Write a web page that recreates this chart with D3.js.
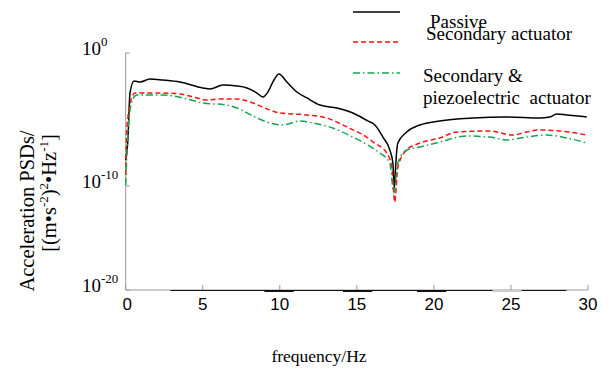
<!DOCTYPE html>
<html>
<head>
<meta charset="utf-8">
<script src="https://cdn.jsdelivr.net/npm/d3@7"></script>
<style>
  body { margin: 0; background: #fff; }
  svg { display: block; }
</style>
</head>
<body>
<div id="chart"></div>
<script>
// frequencies (Hz) and log10 of PSD
const passiveHz = [0, 0.13, 0.28, 0.54, 0.93, 1.58, 2.42, 3.52, 5.01, 5.47, 6.31, 7.22, 7.87, 8.52, 8.9, 9.23, 9.62, 9.94, 10.46, 11.11, 11.76, 12.6, 13.71, 14.74, 15.71, 16.17, 16.69, 17.14, 17.34, 17.43, 17.47, 17.53, 17.66, 18.24, 19.09, 20.38, 22.52, 24.73, 26.87, 27.52, 27.97, 28.62, 29.92];
const passiveLog = [-8.05, -6.77, -3.0, -2.1, -2.18, -1.95, -2.03, -2.18, -2.63, -2.71, -2.41, -2.48, -2.63, -3.01, -3.31, -2.93, -2.03, -1.58, -2.18, -2.93, -3.38, -3.91, -4.14, -4.51, -5.11, -5.41, -6.32, -7.29, -8.27, -10.2, -9.6, -8.3, -6.77, -5.94, -5.41, -5.11, -4.89, -4.81, -4.89, -4.81, -4.59, -4.66, -4.81];

const secondaryHz = [0, 0.08, 0.41, 0.6, 1.38, 2.42, 3.52, 4.62, 5.27, 6.12, 7.22, 8.26, 9.36, 10.0, 10.85, 11.76, 13.05, 14.35, 15.71, 16.04, 16.94, 17.27, 17.46, 17.66, 18.24, 19.09, 20.38, 21.48, 23.62, 25.11, 26.02, 26.87, 28.16, 29.92];
const secondaryLog = [-9.17, -5.56, -3.31, -3.01, -3.01, -3.01, -3.08, -3.38, -3.53, -3.46, -3.46, -3.76, -4.29, -4.51, -4.59, -4.66, -4.89, -5.56, -6.39, -6.69, -7.52, -8.57, -11.54, -8.57, -7.29, -6.77, -6.39, -5.94, -5.86, -6.17, -5.94, -5.79, -5.86, -6.17];

const piezoHz = [0, 0.12, 0.28, 0.54, 0.73, 2.42, 3.98, 5.01, 6.57, 7.22, 8.26, 9.16, 10.2, 11.31, 12.15, 13.44, 14.74, 15.71, 16.49, 17.14, 17.4, 17.66, 18.24, 19.09, 20.38, 22.13, 23.62, 24.73, 26.02, 27.32, 28.62, 29.92];
const piezoLog = [-9.92, -6.54, -4.29, -3.31, -3.16, -3.16, -3.46, -3.76, -3.91, -4.14, -4.74, -5.19, -5.41, -5.11, -5.26, -5.64, -6.32, -6.92, -7.52, -8.27, -10.67, -8.27, -7.29, -7.07, -6.69, -6.24, -6.32, -6.54, -6.32, -6.17, -6.39, -6.77];

const xTicks = [0, 5, 10, 15, 20, 25, 30];
const yTickExps = [0, -10, -20];
const legendLabels = ["Passive", "Secondary actuator", ["Secondary &", "piezoelectric  actuator"]];

const width = 613, height = 371;
const plotLeft = 125.7, plotRight = 588, plotTop = 53, plotBottom = 290;

const svg = d3.select("#chart").append("svg")
  .attr("width", width).attr("height", height);

const x = d3.scaleLinear().domain([0, 30]).range([plotLeft, plotRight]);
// the printed axis is not evenly spaced per decade, so use a piecewise log scale
const y = d3.scaleLog().domain([1e0, 1e-10, 1e-20]).range([plotTop, 186, plotBottom]);

const line = d3.line()
  .x(d => x(d[0]))
  .y(d => y(Math.pow(10, d[1])))
  .curve(d3.curveMonotoneX);

const series = [
  { hz: passiveHz, v: passiveLog, color: "#000", dash: null },
  { hz: secondaryHz, v: secondaryLog, color: "#ff1010", dash: "5,3" },
  { hz: piezoHz, v: piezoLog, color: "#13a64f", dash: "7,3,1.5,3" }
];

// axes (left + bottom only, grey, ticks inward)
const axisColor = "#999";
svg.append("line").attr("x1", plotLeft).attr("x2", plotLeft).attr("y1", plotTop).attr("y2", plotBottom)
  .attr("stroke", axisColor).attr("stroke-width", 1);
svg.append("line").attr("x1", plotLeft).attr("x2", plotRight).attr("y1", plotBottom).attr("y2", plotBottom)
  .attr("stroke", axisColor).attr("stroke-width", 1);

svg.selectAll(".xt").data(xTicks).enter().append("line")
  .attr("x1", d => x(d)).attr("x2", d => x(d))
  .attr("y1", plotBottom).attr("y2", plotBottom - 5)
  .attr("stroke", axisColor);

svg.selectAll(".yt").data(yTickExps).enter().append("line")
  .attr("x1", plotLeft).attr("x2", plotLeft + 4)
  .attr("y1", d => y(Math.pow(10, d))).attr("y2", d => y(Math.pow(10, d)))
  .attr("stroke", axisColor);

// dark bits along the baseline as in the scan
svg.append("line").attr("x1", x(2.9)).attr("x2", x(28.6)).attr("y1", plotBottom + 0.5).attr("y2", plotBottom + 0.5)
  .attr("stroke", "#111").attr("stroke-width", 1.2);
[[9, 10.9], [14.1, 16], [18.9, 20.8]].forEach(s => {
  svg.append("line").attr("x1", x(s[0])).attr("x2", x(s[1])).attr("y1", plotBottom + 1).attr("y2", plotBottom + 1)
    .attr("stroke", "#111").attr("stroke-width", 2);
});
svg.append("line").attr("x1", x(23.8)).attr("x2", x(25.7)).attr("y1", plotBottom + 1).attr("y2", plotBottom + 1)
  .attr("stroke", "#ccc").attr("stroke-width", 2);

// x tick labels
svg.selectAll(".xl").data(xTicks).enter().append("text")
  .attr("x", d => x(d) + (d === 0 ? 1.5 : 0)).attr("y", 310)
  .attr("text-anchor", "middle")
  .attr("font-family", "Liberation Sans, Arial, sans-serif")
  .attr("font-size", 17)
  .text(d => d);

// y tick labels 10^n
const yl = svg.selectAll(".yl").data(yTickExps).enter().append("text")
  .attr("x", 82).attr("y", d => y(Math.pow(10, d)) + 2)
  .attr("font-family", "Liberation Serif, Times New Roman, serif")
  .attr("font-size", 19);
yl.append("tspan").text("10");
yl.append("tspan").attr("dy", -9).attr("font-size", 13).text(d => d === 0 ? "0" : String(d));

// curves
series.forEach(s => {
  svg.append("path")
    .datum(s.hz.map((h, i) => [h, s.v[i]]))
    .attr("d", line)
    .attr("fill", "none")
    .attr("stroke", s.color)
    .attr("stroke-width", 1.5)
    .attr("stroke-dasharray", s.dash);
});

// axis titles
svg.append("text")
  .attr("transform", "translate(34,211) rotate(-90)")
  .attr("text-anchor", "middle")
  .attr("font-family", "Liberation Serif, Times New Roman, serif")
  .attr("font-size", 20.5)
  .text("Acceleration PSDs/");

const yt2 = svg.append("text")
  .attr("transform", "translate(56,193) rotate(-90)")
  .attr("text-anchor", "middle")
  .attr("font-family", "Liberation Serif, Times New Roman, serif")
  .attr("font-size", 20.5);
yt2.append("tspan").text("[(m•s");
yt2.append("tspan").attr("dy", -8).attr("font-size", 13).text("-2");
yt2.append("tspan").attr("dy", 8).text(")");
yt2.append("tspan").attr("dy", -8).attr("font-size", 13).text("2");
yt2.append("tspan").attr("dy", 8).text("•Hz");
yt2.append("tspan").attr("dy", -8).attr("font-size", 13).text("-1");
yt2.append("tspan").attr("dy", 8).text("]");

svg.append("text")
  .attr("x", 319).attr("y", 362)
  .attr("text-anchor", "middle")
  .attr("font-family", "Liberation Serif, Times New Roman, serif")
  .attr("font-size", 17.5)
  .text("frequency/Hz");

// legend
const legFont = "Liberation Serif, Times New Roman, serif";
const legLines = [12, 42, 73];
series.forEach((s, i) => {
  svg.append("line")
    .attr("x1", 353).attr("x2", 400)
    .attr("y1", legLines[i]).attr("y2", legLines[i])
    .attr("stroke", s.color).attr("stroke-width", 1.5)
    .attr("stroke-dasharray", s.dash);
});
svg.append("text").attr("x", 430).attr("y", 28)
  .attr("font-family", legFont).attr("font-size", 19).text(legendLabels[0]);
svg.append("text").attr("x", 426).attr("y", 40)
  .attr("font-family", legFont).attr("font-size", 19).text(legendLabels[1]);
svg.append("text").attr("x", 423).attr("y", 82)
  .attr("font-family", legFont).attr("font-size", 19).text(legendLabels[2][0]);
svg.append("text").attr("x", 423).attr("y", 104)
  .attr("font-family", legFont).attr("font-size", 19)
  .attr("xml:space", "preserve").style("white-space", "pre")
  .text(legendLabels[2][1]);
</script>
</body>
</html>
